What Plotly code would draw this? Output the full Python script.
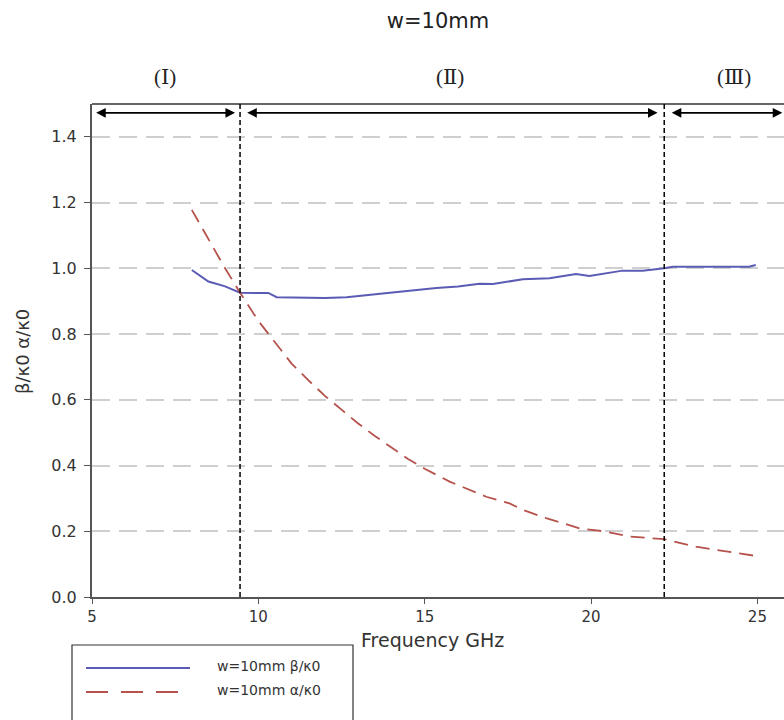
import plotly.graph_objects as go

# ---- data ----
beta_freq = [8.0, 8.5, 9.0, 9.45, 10.0, 10.3, 10.55, 11.3, 12.0, 12.65, 13.25, 14.25, 15.35,
             16.0, 16.65, 17.05, 17.95, 18.75, 19.55, 19.95, 20.95, 21.55, 22.2, 22.45, 23.5, 24.75, 24.95]
beta_vals = [0.995, 0.96, 0.945, 0.926, 0.925, 0.925, 0.912, 0.911, 0.91, 0.912, 0.919, 0.929, 0.94,
             0.945, 0.953, 0.952, 0.967, 0.970, 0.983, 0.977, 0.993, 0.993, 1.0, 1.005, 1.005, 1.005, 1.01]

alpha_freq = [8.0, 8.5, 9.0, 9.45, 10.0, 10.5, 11.0, 11.5, 12.0, 12.5, 13.0, 13.5, 14.0, 14.5, 15.0,
              15.75, 16.85, 17.55, 17.95, 18.65, 19.65, 20.45, 21.15, 22.2, 23.15, 24.25, 24.95]
alpha_vals = [1.178, 1.09, 1.0, 0.926, 0.84, 0.775, 0.71, 0.66, 0.612, 0.57, 0.528, 0.49, 0.455, 0.42, 0.39,
              0.351, 0.305, 0.285, 0.265, 0.24, 0.209, 0.199, 0.184, 0.176, 0.153, 0.135, 0.125]

region_bounds = [9.45, 22.2]
region_labels = ["(Ⅰ)", "(Ⅱ)", "(Ⅲ)"]
region_label_x = [7.2, 15.75, 24.3]
x_ticks = [5, 10, 15, 20, 25]
y_ticks = [0.0, 0.2, 0.4, 0.6, 0.8, 1.0, 1.2, 1.4]

BLUE = "#5b5bb5"
RED = "#b5524c"
FONT = "DejaVu Sans"
TXT = "#333333"

fig = go.Figure()
fig.add_trace(go.Scatter(x=beta_freq, y=beta_vals, mode="lines", name="w=10mm β/κ0",
                         line=dict(color=BLUE, width=2), showlegend=False))
fig.add_trace(go.Scatter(x=alpha_freq, y=alpha_vals, mode="lines", name="w=10mm α/κ0",
                         line=dict(color=RED, width=1.8, dash="14px,8px"), showlegend=False))

shapes = []
# top frame line
shapes.append(dict(type="line", xref="paper", yref="paper", x0=0, x1=1, y0=1, y1=1,
                   line=dict(color="#666666", width=2)))
# vertical region boundaries
for b in region_bounds:
    shapes.append(dict(type="line", xref="x", yref="paper", x0=b, x1=b, y0=0, y1=1,
                       line=dict(color="black", width=1.5, dash="5px,3px")))

# manual legend
shapes.append(dict(type="rect", xref="paper", yref="paper",
                   x0=(72 - 92) / 692, x1=(353 - 92) / 692,
                   y0=(597 - 740) / 493, y1=(597 - 645) / 493,
                   line=dict(color="#333333", width=1.2), fillcolor="white"))
shapes.append(dict(type="line", xref="paper", yref="paper",
                   x0=(86 - 92) / 692, x1=(190 - 92) / 692,
                   y0=(597 - 668) / 493, y1=(597 - 668) / 493,
                   line=dict(color=BLUE, width=1.8)))
shapes.append(dict(type="line", xref="paper", yref="paper",
                   x0=(86 - 92) / 692, x1=(184 - 92) / 692,
                   y0=(597 - 692) / 493, y1=(597 - 692) / 493,
                   line=dict(color=RED, width=1.8, dash="22px,13px")))

annotations = []
# arrows
arrow_y = 1.473
arrow_spans = [(5.08, 9.3), (9.62, 22.0), (22.38, 25.75)]
for (a, b) in arrow_spans:
    annotations.append(dict(x=b, y=arrow_y, ax=a, ay=arrow_y, xref="x", yref="y",
                            axref="x", ayref="y", text="", showarrow=True,
                            arrowhead=2, arrowside="end+start", arrowsize=1.2,
                            arrowwidth=1.6, arrowcolor="black"))
# region labels
for lab, lx in zip(region_labels, region_label_x):
    annotations.append(dict(x=lx, y=(597 - 77) / 493, xref="x", yref="paper", text=lab,
                            showarrow=False, yanchor="middle",
                            font=dict(family="Liberation Serif, DejaVu Serif, Noto Sans CJK SC",
                                      size=21, color="#222222")))
# legend texts
legend_names = ["w=10mm β/κ0", "w=10mm α/κ0"]
for name, py in zip(legend_names, [666, 690]):
    annotations.append(dict(x=(215 - 92) / 692, y=(597 - py) / 493, xref="paper", yref="paper",
                            text=name, showarrow=False, xanchor="left", yanchor="middle",
                            font=dict(family=FONT, size=14, color=TXT)))
# x-axis title
annotations.append(dict(x=(359 - 92) / 692, y=(597 - 640) / 493, xref="paper", yref="paper",
                        text="Frequency GHz", showarrow=False, xanchor="left", yanchor="middle",
                        font=dict(family=FONT, size=19, color=TXT)))
# y-axis title
annotations.append(dict(x=(22 - 92) / 692, y=(597 - 352) / 493, xref="paper", yref="paper",
                        text="β/κ0 α/κ0", showarrow=False, textangle=-90,
                        xanchor="center", yanchor="middle",
                        font=dict(family=FONT, size=18, color=TXT)))

fig.update_layout(
    width=784, height=720,
    margin=dict(l=92, r=0, t=104, b=123),
    paper_bgcolor="white", plot_bgcolor="white",
    title=dict(text="w=10mm", x=438 / 784, xanchor="center", y=1 - 21 / 720, yanchor="middle",
               font=dict(family=FONT, size=21, color="#222222")),
    shapes=shapes,
    annotations=annotations,
    xaxis=dict(range=[5, 25.8], tickvals=x_ticks, ticks="outside", ticklen=5, tickcolor="#555555",
               showline=True, linecolor="#555555", linewidth=2, showgrid=False, zeroline=False,
               tickfont=dict(family=FONT, size=15, color=TXT)),
    yaxis=dict(range=[0, 1.5], tickvals=y_ticks, tickformat=".1f", ticks="outside", ticklen=6,
               tickcolor="#555555", showline=True, linecolor="#555555", linewidth=2,
               showgrid=True, gridcolor="#cfcfcf", gridwidth=1.5, griddash="18px,9px",
               zeroline=False, ticklabelstandoff=4,
               tickfont=dict(family=FONT, size=16, color=TXT)),
)

fig.write_html("out.html")
